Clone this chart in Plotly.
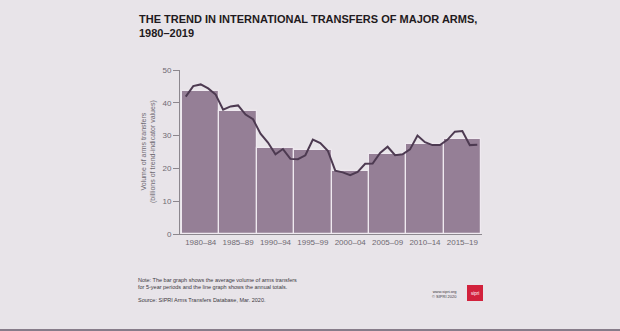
import plotly.graph_objects as go

# Five-year periods and their average volume (billions of TIV)
periods = ["1980–84", "1985–89", "1990–94", "1995–99",
           "2000–04", "2005–09", "2010–14", "2015–19"]
period_mid = [1982, 1987, 1992, 1997, 2002, 2007, 2012, 2017]
period_avg = [43.7, 37.6, 26.2, 25.6, 19.2, 24.3, 27.5, 29.1]

# Annual totals (billions of TIV)
years = list(range(1980, 2020))
annual = [41.9, 45.1, 45.6, 44.4, 42.5,
          37.9, 38.9, 39.2, 36.4, 35.0,
          30.6, 27.9, 24.3, 25.9, 22.9,
          22.8, 24.0, 28.8, 27.7, 25.4,
          19.3, 18.8, 17.9, 18.9, 21.4,
          21.5, 24.7, 26.6, 24.0, 24.3,
          25.8, 30.0, 28.0, 27.1, 27.1,
          28.7, 31.2, 31.4, 27.1, 27.2]

y_ticks = [0, 10, 20, 30, 40, 50]

BG = "#e8e4e9"
BAR = "#957f96"
LINE = "#4d3a51"
AXIS = "#8c878e"
TICK = "#6f6a72"

W, H = 620, 331
L, R, T, B = 180, 138, 70, 97
PW, PH = W - L - R, H - T - B


def px(x):
    return (x - L) / PW


def py(y):
    return (H - B - y) / PH


fig = go.Figure()
fig.add_trace(go.Bar(
    x=period_mid, y=period_avg, width=5,
    marker=dict(color=BAR, line=dict(color="#efe9f0", width=1.2)),
    hoverinfo="skip", showlegend=False,
))
fig.add_trace(go.Scatter(
    x=years, y=annual, mode="lines",
    line=dict(color=LINE, width=2, shape="linear"),
    showlegend=False,
))

font_tick = dict(family="Liberation Sans, Arial, sans-serif", size=8, color=TICK)

fig.update_layout(
    width=W, height=H,
    margin=dict(l=L, r=R, t=T, b=B, pad=0),
    paper_bgcolor=BG, plot_bgcolor=BG,
    bargap=0,
    xaxis=dict(
        range=[1979.23, 2019.63], tickmode="array",
        tickvals=period_mid, ticktext=periods,
        showgrid=False, zeroline=False, showline=True,
        linecolor=AXIS, linewidth=1, ticks="", tickfont=font_tick,
        fixedrange=True,
    ),
    yaxis=dict(
        range=[0, 50], tickmode="array", tickvals=y_ticks,
        showgrid=False, zeroline=False, showline=True,
        linecolor=AXIS, linewidth=1, ticks="outside", ticklen=6,
        tickcolor=AXIS, tickwidth=1, tickfont=font_tick,
        fixedrange=True,
    ),
)

annotations = [
    # Title
    dict(x=px(137), y=py(11), xanchor="left", yanchor="top", align="left",
         text="<b>THE TREND IN INTERNATIONAL TRANSFERS OF MAJOR ARMS,<br>1980–2019</b>",
         font=dict(family="Liberation Sans Narrow, Arial Narrow, Liberation Sans, sans-serif",
                   size=11, color="#1f1a20")),
    # Y-axis title
    dict(x=px(148), y=py(152), xanchor="center", yanchor="middle",
         textangle=-90, align="center",
         text="Volume of arms transfers<br>(billions of trend-indicator values)",
         font=dict(family="Liberation Sans, Arial, sans-serif", size=7, color=TICK)),
    # Notes
    dict(x=px(136), y=py(275), xanchor="left", yanchor="top", align="left",
         text="Note: The bar graph shows the average volume of arms transfers<br>"
              "for 5-year periods and the line graph shows the annual totals.",
         font=dict(family="Liberation Sans, Arial, sans-serif", size=5.5, color="#3c383e")),
    dict(x=px(136), y=py(295), xanchor="left", yanchor="top", align="left",
         text="Source: SIPRI Arms Transfers Database, Mar. 2020.",
         font=dict(family="Liberation Sans, Arial, sans-serif", size=5.5, color="#3c383e")),
    # Credit
    dict(x=px(459), y=py(294), xanchor="right", yanchor="middle", align="right",
         text="www.sipri.org<br>© SIPRI 2020",
         font=dict(family="Liberation Sans, Arial, sans-serif", size=4, color="#3c383e")),
    dict(x=px(475), y=py(293), xanchor="center", yanchor="middle",
         text="sipri",
         font=dict(family="Liberation Sans, Arial, sans-serif", size=4.5, color="#ffffff")),
]
for a in annotations:
    a.update(xref="paper", yref="paper", showarrow=False)
fig.update_layout(annotations=annotations)

fig.add_shape(type="rect", xref="paper", yref="paper",
              x0=px(467), x1=px(483), y0=py(301), y1=py(285),
              fillcolor="#d2213c", line=dict(width=0), layer="below")
fig.add_shape(type="rect", xref="paper", yref="paper",
              x0=px(0), x1=px(620), y0=py(331), y1=py(329),
              fillcolor="#877c8a", line=dict(width=0))

fig.write_html("out.html", config=dict(displayModeBar=False))
